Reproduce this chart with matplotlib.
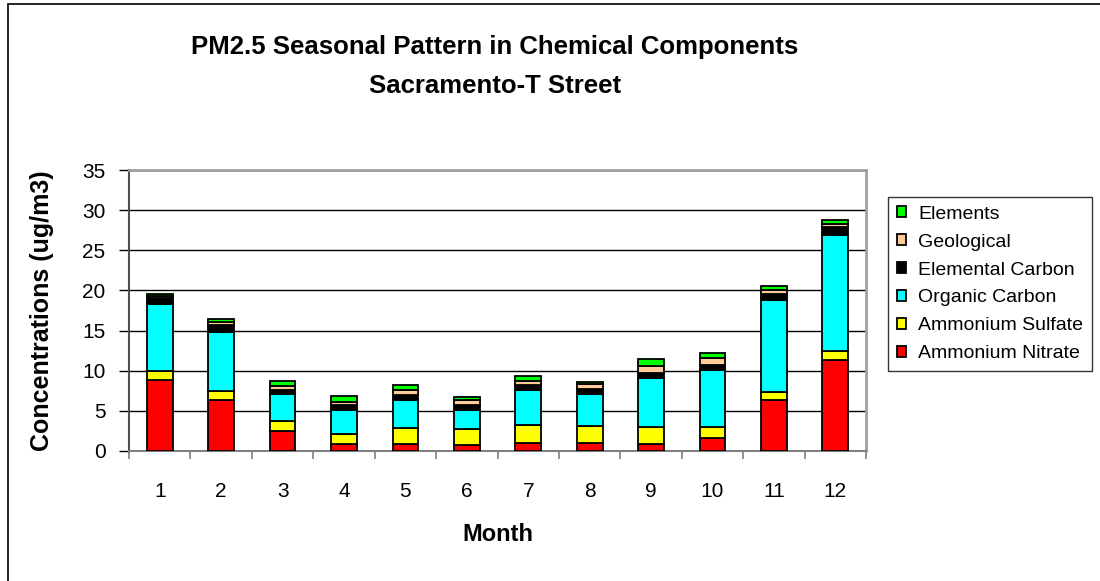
import matplotlib.pyplot as plt
import numpy as np
from matplotlib.patches import Rectangle

plt.rcParams['font.family'] = ['Liberation Sans', 'DejaVu Sans']

months = ['1', '2', '3', '4', '5', '6', '7', '8', '9', '10', '11', '12']
ammonium_nitrate = [8.9, 6.4, 2.45, 0.9, 0.9, 0.7, 0.95, 0.95, 0.9, 1.65, 6.35, 11.35]
ammonium_sulfate = [1.0, 1.1, 1.3, 1.25, 2.0, 2.0, 2.25, 2.2, 2.05, 1.3, 1.05, 1.05]
organic_carbon = [8.4, 7.3, 3.35, 3.0, 3.4, 2.45, 4.4, 3.9, 6.15, 7.1, 11.35, 14.5]
elemental_carbon = [0.8, 0.9, 0.55, 0.6, 0.65, 0.6, 0.6, 0.65, 0.6, 0.6, 0.85, 0.95]
geological = [0.15, 0.4, 0.5, 0.4, 0.65, 0.55, 0.5, 0.6, 0.9, 0.9, 0.45, 0.4]
elements = [0.3, 0.3, 0.55, 0.75, 0.6, 0.45, 0.7, 0.35, 0.8, 0.6, 0.55, 0.5]

series = [
    ('Ammonium Nitrate', ammonium_nitrate, '#FF0000'),
    ('Ammonium Sulfate', ammonium_sulfate, '#FFFF00'),
    ('Organic Carbon', organic_carbon, '#00FFFF'),
    ('Elemental Carbon', elemental_carbon, '#000000'),
    ('Geological', geological, '#FFCC99'),
    ('Elements', elements, '#00FF00'),
]

fig = plt.figure(figsize=(11, 5.81), dpi=100)
ax = fig.add_axes([0.1173, 0.2238, 0.67, 0.4836])

x = np.arange(len(months))
bottom = np.zeros(len(months))
for name, vals, col in series:
    ax.bar(x, vals, 0.42, bottom=bottom, color=col, edgecolor='black',
           linewidth=1.3, label=name, zorder=3)
    bottom += np.array(vals)

ax.set_xlim(-0.5, len(months) - 0.5)
ax.set_ylim(0, 35)
ax.set_yticks(range(0, 36, 5))
ax.set_xticks(x)
ax.set_xticklabels(months)
ax.set_xticks(np.arange(-0.5, len(months), 1), minor=True)
ax.tick_params(axis='x', which='major', length=0, labelsize=15, pad=22)
ax.tick_params(axis='x', which='minor', length=6, color='#808080', width=1.2)
ax.tick_params(axis='y', length=7, labelsize=15, width=1, pad=10)
ax.yaxis.grid(True, color='black', linewidth=1, zorder=0)
ax.set_axisbelow(True)

for s in ['top', 'right']:
    ax.spines[s].set_color('#A0A0A0')
    ax.spines[s].set_linewidth(2)
ax.spines['left'].set_color('#505050')
ax.spines['left'].set_linewidth(1.5)
ax.spines['bottom'].set_color('#808080')
ax.spines['bottom'].set_linewidth(1.5)

ax.set_ylabel('Concentrations (ug/m3)', fontsize=18, fontweight='bold', labelpad=20)
ax.set_xlabel('Month', fontsize=17, fontweight='bold', labelpad=16)

fig.text(0.45, 0.886, 'PM2.5 Seasonal Pattern in Chemical Components\nSacramento-T Street',
         ha='center', va='center', fontsize=18.5, fontweight='bold', linespacing=1.8)

handles, labels = ax.get_legend_handles_labels()
leg = fig.legend(handles[::-1], labels[::-1], loc='upper left',
                 bbox_to_anchor=(888 / 1100, 1 - 197 / 581), fontsize=14,
                 frameon=True, fancybox=False, edgecolor='black', handlelength=0.5,
                 handleheight=0.5, handletextpad=0.6, labelspacing=0.56,
                 borderpad=0.45, borderaxespad=0)
leg.get_frame().set_linewidth(1)

# outer chart border
fig.patches.append(Rectangle((8 / 1100, -0.1), 1.2, 1 - 4 / 581 + 0.1,
                             transform=fig.transFigure, fill=False,
                             edgecolor='black', linewidth=1.2, clip_on=False))

fig.savefig('out.png', dpi=100)
